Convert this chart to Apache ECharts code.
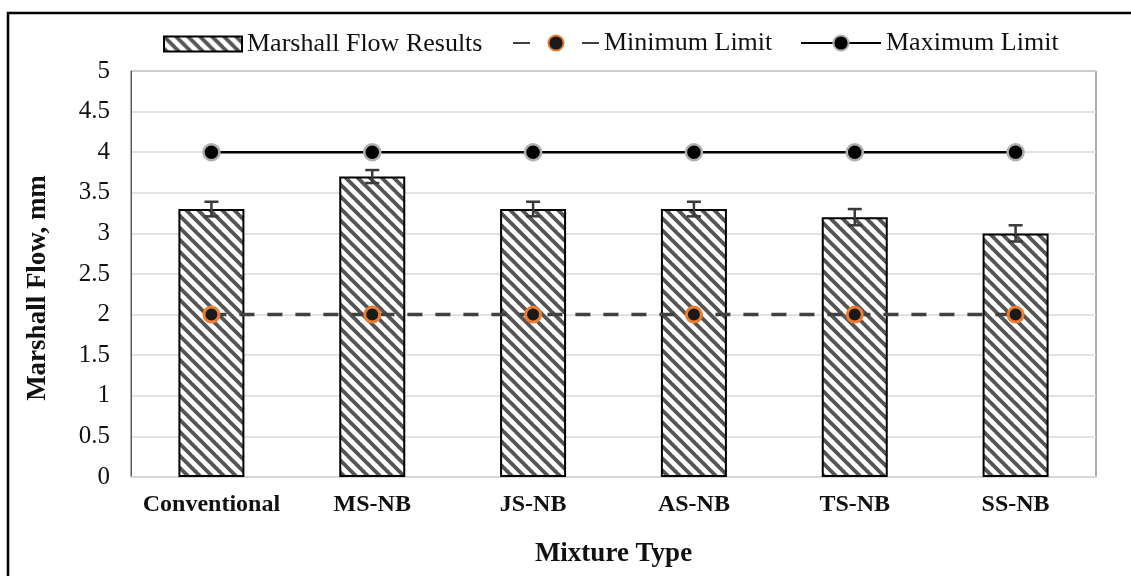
<!DOCTYPE html>
<html>
<head>
<meta charset="utf-8">
<script src="https://cdn.jsdelivr.net/npm/echarts@6/dist/echarts.min.js"></script>
<style>
html,body{margin:0;padding:0;background:#fff;}
#chart{width:1131px;height:576px;}
</style>
</head>
<body>
<div id="chart"></div>
<script>
const categories = ['Conventional', 'MS-NB', 'JS-NB', 'AS-NB', 'TS-NB', 'SS-NB'];
const flowValues = [3.3, 3.7, 3.3, 3.3, 3.2, 3.0];
const flowErrors = [0.09, 0.08, 0.09, 0.09, 0.1, 0.1];
const minLimit = [2, 2, 2, 2, 2, 2];
const maxLimit = [4, 4, 4, 4, 4, 4];
const yMin = 0, yMax = 5, yStep = 0.5;

const FONT = '"Liberation Serif", "Times New Roman", serif';

function hatch() {
  const s = 12;
  const c = document.createElement('canvas');
  c.width = s; c.height = s;
  const g = c.getContext('2d');
  g.fillStyle = '#ffffff';
  g.fillRect(0, 0, s, s);
  g.strokeStyle = '#555555';
  g.lineWidth = 3.8;
  for (const x0 of [-s, 0, s]) {
    g.beginPath();
    g.moveTo(x0 - 2, -2);
    g.lineTo(x0 + s + 2, s + 2);
    g.stroke();
  }
  return c;
}
const pattern = { image: hatch(), repeat: 'repeat' };

const errData = categories.map((c, i) => [i, flowValues[i] - flowErrors[i], flowValues[i] + flowErrors[i]]);

const chart = echarts.init(document.getElementById('chart'), null, { renderer: 'canvas' });
chart.setOption({
  animation: false,
  backgroundColor: '#fff',
  textStyle: { fontFamily: FONT },
  graphic: [{
    type: 'polyline',
    shape: { points: [[8, 600], [8, 13], [1140, 13]] },
    style: { stroke: '#000', lineWidth: 2.5, fill: null },
    silent: true
  }],
  legend: [
    {
      data: [{ name: 'Marshall Flow Results', icon: 'rect' }],
      left: 158, top: 26,
      itemWidth: 78, itemHeight: 15, itemGap: 0,
      textStyle: { fontFamily: FONT, fontSize: 26, color: '#111' }
    },
    {
      data: ['Minimum Limit'],
      left: 507, top: 25,
      itemWidth: 86, itemHeight: 19,
      lineStyle: { type: [17, 52] },
      textStyle: { fontFamily: FONT, fontSize: 26, color: '#111' }
    },
    {
      data: ['Maximum Limit'],
      left: 795, top: 25,
      itemWidth: 80, itemHeight: 19,
      textStyle: { fontFamily: FONT, fontSize: 26, color: '#111' }
    }
  ],
  grid: {
    left: 131, right: 35, top: 71, bottom: 99,
    show: true, borderColor: '#595959', borderWidth: 1, backgroundColor: 'transparent'
  },
  xAxis: {
    type: 'category',
    data: categories,
    name: 'Mixture Type',
    nameLocation: 'middle',
    nameGap: 64,
    nameTextStyle: { fontFamily: FONT, fontSize: 27, fontWeight: 'bold', color: '#111' },
    axisLine: { show: true, lineStyle: { color: '#d9d9d9', width: 1.5 } },
    axisTick: { show: false },
    axisLabel: { interval: 0, fontFamily: FONT, fontSize: 24, fontWeight: 'bold', color: '#111', margin: 16 },
    splitLine: { show: false }
  },
  yAxis: {
    type: 'value',
    min: yMin, max: yMax, interval: yStep,
    name: 'Marshall Flow, mm',
    nameLocation: 'middle',
    nameGap: 79,
    nameTextStyle: { fontFamily: FONT, fontSize: 27, fontWeight: 'bold', color: '#111', padding: [0, 28, 0, 0] },
    axisLine: { show: true, lineStyle: { color: '#595959', width: 1 } },
    axisTick: { show: false },
    axisLabel: { fontFamily: FONT, fontSize: 25, color: '#111', margin: 21 },
    splitLine: { show: true, lineStyle: { color: '#d9d9d9', width: 1.5 } }
  },
  series: [
    {
      name: 'Marshall Flow Results',
      type: 'bar',
      data: flowValues,
      barWidth: 66,
      itemStyle: { color: pattern, borderColor: '#000', borderWidth: 2 },
      z: 2
    },
    {
      name: 'Error',
      type: 'custom',
      data: errData,
      encode: { x: 0, y: [1, 2] },
      z: 3,
      renderItem: function (params, api) {
        const lo = api.coord([api.value(0), api.value(1)]);
        const hi = api.coord([api.value(0), api.value(2)]);
        const hw = 7;
        const st = { stroke: '#3a3a3a', lineWidth: 2.5 };
        return {
          type: 'group',
          children: [
            { type: 'line', shape: { x1: lo[0], y1: lo[1], x2: hi[0], y2: hi[1] }, style: st },
            { type: 'line', shape: { x1: lo[0] - hw, y1: lo[1], x2: lo[0] + hw, y2: lo[1] }, style: st },
            { type: 'line', shape: { x1: hi[0] - hw, y1: hi[1], x2: hi[0] + hw, y2: hi[1] }, style: st }
          ]
        };
      }
    },
    {
      name: 'Minimum Limit',
      type: 'line',
      data: minLimit,
      symbol: 'circle',
      symbolSize: 15,
      lineStyle: { color: '#404040', width: 3.5, type: [15, 13] },
      itemStyle: { color: '#1a1a1a', borderColor: '#ED7D31', borderWidth: 3 },
      z: 4
    },
    {
      name: 'Maximum Limit',
      type: 'line',
      data: maxLimit,
      symbol: 'circle',
      symbolSize: 16,
      lineStyle: { color: '#000', width: 2.5 },
      itemStyle: { color: '#000', borderColor: '#b0b0b0', borderWidth: 2.5 },
      z: 4
    }
  ]
});
</script>
</body>
</html>
